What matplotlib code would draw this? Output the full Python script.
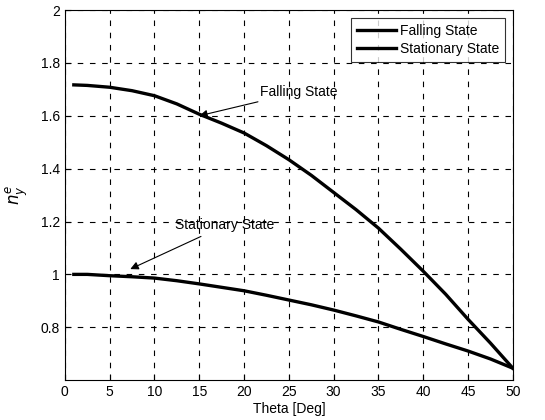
import matplotlib
matplotlib.use("Agg")
import matplotlib.pyplot as plt

# Values
theta = [1, 2.5, 5, 7.5, 10, 12.5, 15, 17.5, 20, 22.5, 25, 27.5,
         30, 32.5, 35, 37.5, 40, 42.5, 45, 47.5, 50]
falling = [1.717, 1.715, 1.708, 1.695, 1.676, 1.645, 1.606, 1.572, 1.535, 1.487, 1.434, 1.375,
           1.31, 1.245, 1.175, 1.095, 1.012, 0.925, 0.83, 0.74, 0.645]
stationary = [1.0, 1.0, 0.995, 0.991, 0.986, 0.976, 0.964, 0.951, 0.938, 0.921, 0.903, 0.885,
              0.865, 0.843, 0.82, 0.792, 0.765, 0.737, 0.71, 0.68, 0.645]

xticks = [0, 5, 10, 15, 20, 25, 30, 35, 40, 45, 50]
yticks = [0.8, 1.0, 1.2, 1.4, 1.6, 1.8, 2.0]
ytick_labels = ["0.8", "1", "1.2", "1.4", "1.6", "1.8", "2"]

plt.rcParams['font.family'] = ['Liberation Sans', 'DejaVu Sans']

fig = plt.figure(figsize=(5.45, 4.2), dpi=100)
ax = fig.add_axes([0.119, 0.095, 0.822, 0.881])

ax.plot(theta, falling, color='black', lw=2.4, label='Falling State')
ax.plot(theta, stationary, color='black', lw=2.4, label='Stationary State')

ax.set_xlim(0, 50)
ax.set_ylim(0.6, 2.0)
ax.set_xticks(xticks)
ax.set_yticks(yticks)
ax.set_yticklabels(ytick_labels)
ax.tick_params(labelsize=10, direction='in', length=4, width=0.8)
ax.grid(True, color='black', linestyle=(0, (5, 6)), linewidth=0.8)

ax.set_xlabel('Theta [Deg]', fontsize=10, labelpad=2)
ax.set_ylabel(r'$n_y^e$', fontsize=12, labelpad=8)

# annotations with arrows
ax.annotate('Falling State', xy=(15, 1.6), xytext=(21.8, 1.69),
            fontsize=10, va='center',
            arrowprops=dict(arrowstyle='-|>', color='black', lw=0.8,
                            mutation_scale=12, shrinkA=0, shrinkB=0))
ax.annotate('Stationary State', xy=(7.3, 1.02), xytext=(12.3, 1.185),
            fontsize=10, va='center',
            arrowprops=dict(arrowstyle='-|>', color='black', lw=0.8,
                            mutation_scale=12, shrinkA=2, shrinkB=0))

leg = ax.legend(loc='upper right', fontsize=10, frameon=True, fancybox=False,
                edgecolor='black', handlelength=2.8, handletextpad=0.3,
                borderaxespad=0.6, labelspacing=0.3, borderpad=0.4)
leg.get_frame().set_linewidth(0.8)

for s in ax.spines.values():
    s.set_linewidth(0.8)

fig.savefig('out.png', dpi=100)
